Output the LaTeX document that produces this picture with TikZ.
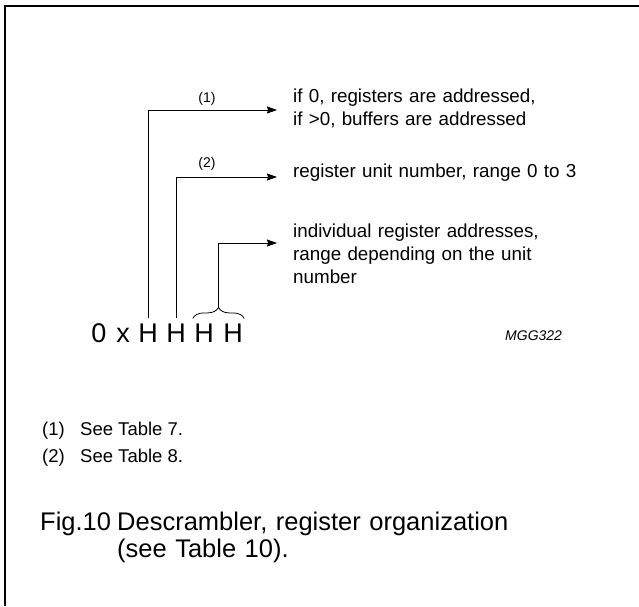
\documentclass[tikz,border=0pt]{standalone}
\usepackage{fontspec}
\setmainfont{Liberation Sans}
\usetikzlibrary{decorations.pathreplacing,arrows.meta,calc}

\begin{document}
\begin{tikzpicture}[x=1pt,y=-1pt,
  lab/.style={font=\fontsize{18.8}{23}\selectfont, anchor=base west, inner sep=0pt, text width=320pt, align=left},
  hex/.style={font=\fontsize{27}{27}\selectfont, anchor=base, inner sep=0pt, outer xsep=1.5pt, outer ysep=5pt},
  tag/.style={font=\fontsize{14}{14}\selectfont, anchor=base, inner sep=0pt},
  note/.style={font=\fontsize{18.5}{18.5}\selectfont, anchor=base west, inner sep=0pt},
  capt/.style={font=\fontsize{25.5}{27}\selectfont, anchor=base west, inner sep=0pt},
  ptr/.style={line width=0.8pt, -{Stealth[length=10pt,width=7pt,inset=1pt]}}]

\useasboundingbox (0,0) rectangle (639,606);

% frame
\draw[line width=1.6pt] (5,606) -- (5,6) -- (639,6);

% address digits
\node[hex] (zero) at (99,342) {0};
\node[hex] (ex) at (123,342) {x};
\node[hex] (h1) at (148,342) {H};
\node[hex] (h2) at (176,342) {H};
\node[hex] (h3) at (204,342) {H};
\node[hex] (h4) at (233,342) {H};

% arrow ends
\coordinate (c1) at (277,110);
\coordinate (c2) at (277,177);
\coordinate (c3) at (277,243);

% descriptions
\node[lab] (d1) at (293,102) {if 0, registers are addressed,\\if >0, buffers are addressed};
\node[lab] (d2) at (293,177) {register unit number, range 0 to 3};
\node[lab] (d3) at (293,237) {individual register addresses,\\range depending on the unit\\number};

% first H
\draw[ptr] (h1.north) |- (c1);
\node[tag] (t1) at (207,102) {(1)};

% second H
\draw[ptr] (h2.north) |- (c2);
\node[tag] (t2) at (207,167) {(2)};

% last two H
\draw[line width=0.8pt, decorate, decoration={brace, amplitude=11pt}] (h3.north west) -- (h4.north east);
\coordinate (brtip) at ($(h3.north west)!0.5!(h4.north east)+(0,-11)$);
\draw[ptr] (brtip) |- (c3);

\node[font=\itshape\fontsize{14}{14}\selectfont, anchor=base west, inner sep=0pt] (code) at (505,340) {MGG322};

% notes
\node[note] (n1) at (42,435) {(1)};
\node[note] (m1) at (80,435) {See Table 7.};
\node[note] (n2) at (42,462) {(2)};
\node[note] (m2) at (80,462) {See Table 8.};

% caption
\node[capt] (fig) at (40,530) {Fig.10};
\node[capt, text width=450pt, align=left] (cap) at (117,530) {Descrambler, register organization\\(see Table 10).};

\end{tikzpicture}
\end{document}
